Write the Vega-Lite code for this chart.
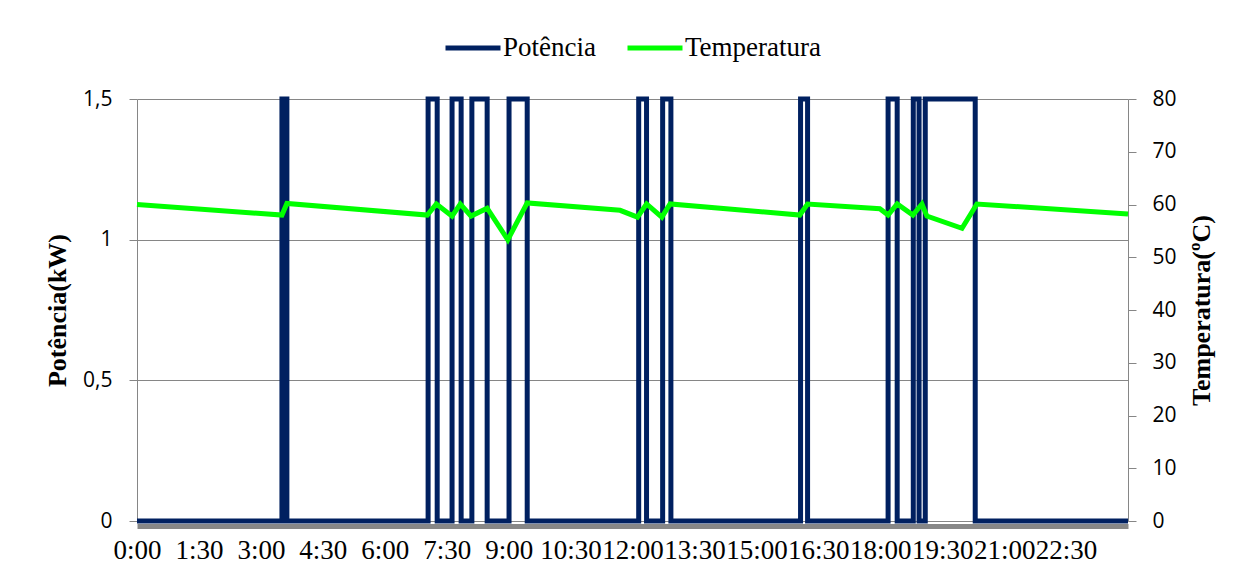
{
  "$schema": "https://vega.github.io/schema/vega-lite/v6.json",
  "width": 991,
  "height": 422,
  "autosize": {"type": "none"},
  "padding": {"left": 137, "top": 99, "right": 122, "bottom": 60},
  "background": "white",
  "config": {
    "view": {"stroke": null},
    "axis": {
      "domainColor": "#868686",
      "tickColor": "#868686",
      "gridColor": "#868686",
      "labelColor": "#000000",
      "titleColor": "#000000"
    }
  },
  "datasets": {
    "potencia": [
      {"hora": 0, "potencia": 0},
      {"hora": 3.51, "potencia": 1.5},
      {"hora": 3.63, "potencia": 0},
      {"hora": 7.05, "potencia": 1.5},
      {"hora": 7.27, "potencia": 0},
      {"hora": 7.63, "potencia": 1.5},
      {"hora": 7.85, "potencia": 0},
      {"hora": 8.11, "potencia": 1.5},
      {"hora": 8.48, "potencia": 0},
      {"hora": 9.01, "potencia": 1.5},
      {"hora": 9.45, "potencia": 0},
      {"hora": 12.15, "potencia": 1.5},
      {"hora": 12.34, "potencia": 0},
      {"hora": 12.73, "potencia": 1.5},
      {"hora": 12.93, "potencia": 0},
      {"hora": 16.07, "potencia": 1.5},
      {"hora": 16.24, "potencia": 0},
      {"hora": 18.19, "potencia": 1.5},
      {"hora": 18.41, "potencia": 0},
      {"hora": 18.8, "potencia": 1.5},
      {"hora": 18.94, "potencia": 0},
      {"hora": 19.09, "potencia": 1.5},
      {"hora": 20.3, "potencia": 0},
      {"hora": 24, "potencia": 0}
    ],
    "temperatura": [
      {"hora": 0, "temperatura": 60.0},
      {"hora": 3.51, "temperatura": 58.0},
      {"hora": 3.63, "temperatura": 60.2},
      {"hora": 7.03, "temperatura": 58.0},
      {"hora": 7.25, "temperatura": 60.1},
      {"hora": 7.63, "temperatura": 57.8},
      {"hora": 7.83, "temperatura": 60.1},
      {"hora": 8.09, "temperatura": 57.8},
      {"hora": 8.48, "temperatura": 59.3},
      {"hora": 8.98, "temperatura": 53.3},
      {"hora": 9.45, "temperatura": 60.3},
      {"hora": 11.7, "temperatura": 58.9},
      {"hora": 12.12, "temperatura": 57.6},
      {"hora": 12.34, "temperatura": 60.1},
      {"hora": 12.71, "temperatura": 57.6},
      {"hora": 12.91, "temperatura": 60.1},
      {"hora": 16.05, "temperatura": 58.0},
      {"hora": 16.24, "temperatura": 60.1},
      {"hora": 17.99, "temperatura": 59.2},
      {"hora": 18.19, "temperatura": 58.0},
      {"hora": 18.41, "temperatura": 60.1},
      {"hora": 18.79, "temperatura": 58.0},
      {"hora": 19.01, "temperatura": 60.1},
      {"hora": 19.13, "temperatura": 57.8},
      {"hora": 19.98, "temperatura": 55.5},
      {"hora": 20.34, "temperatura": 60.1},
      {"hora": 24, "temperatura": 58.2}
    ]
  },
  "layer": [
    {
      "data": {"name": "potencia"},
      "mark": {"type": "line", "interpolate": "step-after", "strokeWidth": 5, "clip": false},
      "encoding": {
        "x": {
          "field": "hora",
          "type": "quantitative",
          "scale": {"domain": [0, 24], "nice": false, "zero": false},
          "axis": {
            "title": null,
            "values": [0, 1.5, 3, 4.5, 6, 7.5, 9, 10.5, 12, 13.5, 15, 16.5, 18, 19.5, 21, 22.5],
            "labelExpr": "floor(datum.value) + ':' + (datum.value % 1 ? '30' : '00')",
            "labelFont": "Liberation Serif",
            "labelFontSize": 27,
            "labelOverlap": false,
            "labelFlush": false,
            "labelBound": false,
            "labelPadding": 11,
            "ticks": false,
            "grid": false,
            "domainColor": "#878787",
            "domainWidth": 5,
            "offset": 5
          }
        },
        "y": {
          "field": "potencia",
          "type": "quantitative",
          "scale": {"domain": [0, 1.5], "nice": false},
          "axis": {
            "title": "Potência(kW)",
            "titleFont": "Liberation Serif",
            "titleFontSize": 26,
            "titleFontWeight": "bold",
            "titlePadding": 12,
            "values": [0, 0.5, 1, 1.5],
            "labelExpr": "replace(toString(datum.value), '.', ',')",
            "labelFont": "Open Sans",
            "labelFontSize": 21,
            "labelPadding": 17,
            "tickSize": 8,
            "grid": true,
            "gridWidth": 1
          }
        },
        "color": {
          "datum": "Potência",
          "type": "nominal",
          "scale": {"domain": ["Potência", "Temperatura"], "range": ["#002060", "#00FF00"]},
          "legend": {
            "title": null,
            "orient": "none",
            "legendX": 306,
            "legendY": -81,
            "direction": "horizontal",
            "symbolType": "stroke",
            "symbolSize": 3025,
            "symbolStrokeWidth": 5,
            "labelFont": "Liberation Serif",
            "labelFontSize": 27,
            "labelColor": "#000000",
            "labelOffset": 0,
            "labelLimit": 400,
            "columnPadding": 21
          }
        }
      }
    },
    {
      "data": {"name": "temperatura"},
      "mark": {"type": "line", "strokeWidth": 5, "clip": false},
      "encoding": {
        "x": {"field": "hora", "type": "quantitative"},
        "y": {
          "field": "temperatura",
          "type": "quantitative",
          "scale": {"domain": [0, 80], "nice": false},
          "axis": {
            "orient": "right",
            "title": "Temperatura(ºC)",
            "titleFont": "Liberation Serif",
            "titleFontSize": 26,
            "titleFontWeight": "bold",
            "titleAngle": 270,
            "titlePadding": 38,
            "values": [0, 10, 20, 30, 40, 50, 60, 70, 80],
            "labelFont": "Open Sans",
            "labelFontSize": 21,
            "labelPadding": 16,
            "tickSize": 8,
            "grid": false
          }
        },
        "color": {"datum": "Temperatura", "type": "nominal"}
      }
    }
  ],
  "resolve": {"scale": {"y": "independent"}}
}
